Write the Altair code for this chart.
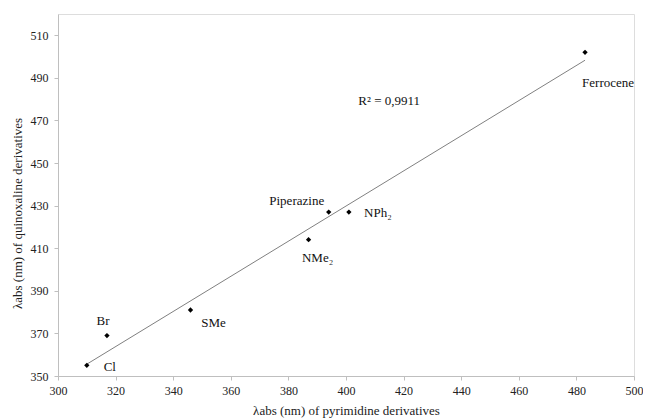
import altair as alt
import pandas as pd

# data
names = ["Cl", "Br", "SMe", "NMe\u2082", "Piperazine", "NPh\u2082", "Ferrocene"]
pyrimidine = [310, 317, 346, 387, 394, 401, 483]
quinoxaline = [355, 369, 381, 414, 427, 427, 502]
r2_text = "R\u00b2 = 0,9911"
r2_pos = (415, 479)

x_ticks = list(range(300, 501, 20))
y_ticks = list(range(350, 511, 20))

df = pd.DataFrame({"name": names, "x": pyrimidine, "y": quinoxaline})

# label offsets (styling), in pixels
label_offsets = {
    "Cl": (23, 2),
    "Br": (-4, -15),
    "SMe": (23, 13),
    "NMe\u2082": (9, 18),
    "Piperazine": (-32, -11),
    "NPh\u2082": (29, 1),
    "Ferrocene": (23, 31),
}

FONT = "Liberation Serif, Times New Roman, serif"

xs = alt.Scale(domain=[300, 500], nice=False, zero=False)
ys = alt.Scale(domain=[350, 520], nice=False, zero=False)

x_enc = alt.X("x:Q", scale=xs, axis=alt.Axis(
    values=x_ticks, title="\u03bbabs (nm) of pyrimidine derivatives",
    grid=False, domainColor="#bfbfbf", tickColor="#bfbfbf", tickSize=4,
    labelFlush=False,
    labelFont=FONT, labelFontSize=12, labelColor="#222222", labelPadding=5,
    titleFont=FONT, titleFontSize=13, titleFontWeight="normal", titleColor="#222222",
    titlePadding=8))
y_enc = alt.Y("y:Q", scale=ys, axis=alt.Axis(
    values=y_ticks, title="\u03bbabs (nm) of quinoxaline derivatives",
    grid=False, domainColor="#bfbfbf", tickColor="#bfbfbf", tickSize=4,
    labelFlush=False,
    labelFont=FONT, labelFontSize=12, labelColor="#222222", labelPadding=6,
    titleFont=FONT, titleFontSize=13, titleFontWeight="normal", titleColor="#222222",
    titlePadding=6, titleY=199))

base = alt.Chart(df)

trend = base.transform_regression("x", "y").mark_line(
    color="#808080", strokeWidth=1
).encode(x=alt.X("x:Q", scale=xs), y=alt.Y("y:Q", scale=ys))

points = base.mark_point(shape="diamond", filled=True, color="black", size=28, opacity=1).encode(
    x=x_enc, y=y_enc)

label_layers = []
for n in names:
    dx, dy = label_offsets[n]
    label_layers.append(
        base.transform_filter(alt.datum.name == n).mark_text(
            font=FONT, fontSize=13, color="#111111", dx=dx, dy=dy,
            align="center", baseline="middle"
        ).encode(x=alt.X("x:Q", scale=xs), y=alt.Y("y:Q", scale=ys), text="name:N")
    )

r2 = alt.Chart(pd.DataFrame({"x": [r2_pos[0]], "y": [r2_pos[1]], "t": [r2_text]})).mark_text(
    font=FONT, fontSize=13, color="#111111", align="center", baseline="middle"
).encode(x=alt.X("x:Q", scale=xs), y=alt.Y("y:Q", scale=ys), text="t:N")

chart = alt.layer(trend, points, *label_layers, r2).properties(
    width=576, height=362,
    autosize=alt.AutoSizeParams(type="none"),
    padding={"left": 50, "top": 6, "right": 9, "bottom": 44},
).configure_view(stroke=None).configure(background="white")

chart.save("out.html", embed_options={"renderer": "svg", "actions": False})
